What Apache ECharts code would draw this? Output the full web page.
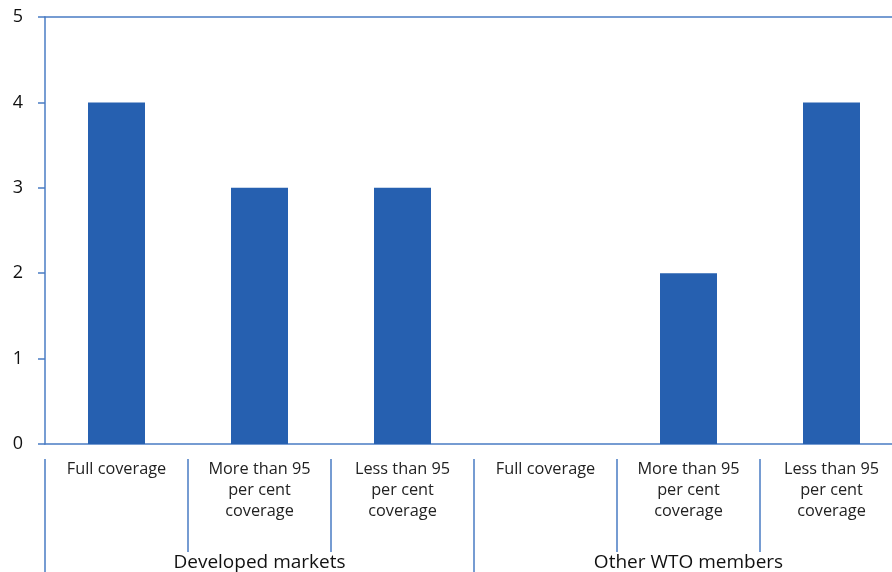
<!DOCTYPE html>
<html>
<head>
<meta charset="utf-8">
<script src="https://cdn.jsdelivr.net/npm/echarts@6/dist/echarts.min.js"></script>
<style>html,body{margin:0;padding:0;background:#fff;overflow:hidden;width:892px;height:572px}#c{width:903px;height:572px}</style>
</head>
<body>
<div id="c"></div>
<script>
const categories = ['Full coverage', 'More than 95\nper cent\ncoverage', 'Less than 95\nper cent\ncoverage', 'Full coverage', 'More than 95\nper cent\ncoverage', 'Less than 95\nper cent\ncoverage'];
const groups = ['Developed markets', 'Other WTO members'];
const values = [4, 3, 3, 0, 2, 4];
const yTicks = [0, 1, 2, 3, 4, 5];

const lineColor = '#4a7cc4';
const font = '"Open Sans", sans-serif';
const chart = echarts.init(document.getElementById('c'));
chart.setOption({
  animation: false,
  grid: { left: 45, top: 17, right: 0, bottom: 128, containLabel: false },
  xAxis: [
    { type: 'category', data: categories, position: 'bottom',
      axisLine: { show: true, lineStyle: { color: lineColor, width: 1.5 } },
      axisTick: { show: false }, axisLabel: { show: false }, splitLine: { show: false } },
    { type: 'category', data: categories, position: 'bottom', offset: 15,
      axisLine: { show: false },
      axisTick: { show: true, interval: 0, length: 93, lineStyle: { color: lineColor, width: 1.5 } },
      axisLabel: { interval: 0, margin: 0, fontSize: 16.3, lineHeight: 21, color: '#222', fontFamily: font } },
    { type: 'category', data: groups, position: 'bottom', offset: 15,
      axisLine: { show: false },
      axisTick: { show: true, interval: 0, length: 130, lineStyle: { color: lineColor, width: 1.5 } },
      axisLabel: { interval: 0, margin: 94, fontSize: 19, color: '#111', fontFamily: font } },
    { type: 'category', data: categories, position: 'top',
      axisLine: { show: true, lineStyle: { color: lineColor, width: 1.5 } },
      axisTick: { show: false }, axisLabel: { show: false } }
  ],
  yAxis: {
    type: 'value', min: yTicks[0], max: yTicks[yTicks.length - 1], interval: 1,
    axisLine: { show: true, lineStyle: { color: lineColor, width: 1.5 } },
    axisTick: { show: true, length: 7, lineStyle: { color: lineColor, width: 1.5 } },
    axisLabel: { margin: 22, fontSize: 18, color: '#111', fontFamily: font },
    splitLine: { show: false }
  },
  series: [{
    type: 'bar', xAxisIndex: 0, data: values, barWidth: 57,
    itemStyle: { color: '#2660b0' }
  }]
});
</script>
</body>
</html>
